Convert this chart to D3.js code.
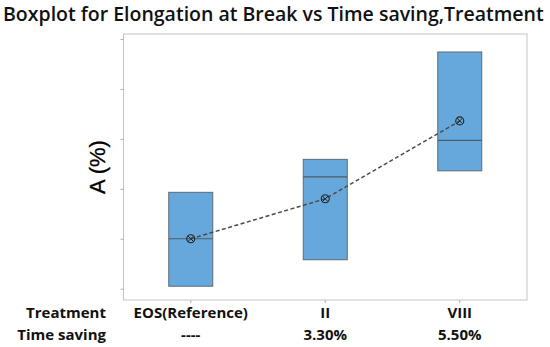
<!DOCTYPE html>
<html>
<head>
<meta charset="utf-8">
<script src="https://cdn.jsdelivr.net/npm/d3@7"></script>
<style>
  body { margin: 0; background: #fff; }
  svg { display: block; }
</style>
</head>
<body>
<svg></svg>
<script>
const treatments = ['EOS(Reference)', 'II', 'VIII'];
const timeSaving = ['----', '3.30%', '5.50%'];
// box stats (arbitrary y units, no tick labels shown)
const q1Values = [1.05, 1.58, 3.36];
const q3Values = [2.93, 3.59, 5.74];
const medianValues = [2.00, 3.24, 3.97];
const meanValues = [2.00, 2.80, 4.36];
const yTicks = [1, 2, 3, 4, 5, 6];

const width = 550;
const height = 347;
const plot = { left: 123.5, right: 527, top: 34, bottom: 300 };

const boxes = treatments.map((t, i) => ({
    name: t,
    q1: q1Values[i],
    q3: q3Values[i],
    median: medianValues[i],
    mean: meanValues[i]
}));

const svg = d3.select('svg')
    .attr('width', width)
    .attr('height', height);

const xScale = d3.scaleBand()
    .domain(treatments)
    .range([plot.left, plot.right]);

const yScale = d3.scaleLinear()
    .domain([0.774, 6.1])
    .range([plot.bottom, plot.top]);

// frame
svg.append('rect')
    .attr('x', plot.left)
    .attr('y', plot.top)
    .attr('width', plot.right - plot.left)
    .attr('height', plot.bottom - plot.top)
    .attr('fill', 'none')
    .attr('stroke', '#c4c4c4')
    .attr('stroke-width', 1);

// y axis: ticks only
const yAxis = d3.axisLeft(yScale)
    .tickValues(yTicks)
    .tickSize(3)
    .tickFormat('');

svg.append('g')
    .attr('transform', 'translate(' + plot.left + ', 0)')
    .call(yAxis)
    .call(g => g.select('.domain').remove())
    .call(g => g.selectAll('line').attr('stroke', '#b0b0b0'));

// x axis ticks
const xAxis = d3.axisBottom(xScale)
    .tickSize(3)
    .tickFormat('');

svg.append('g')
    .attr('transform', 'translate(0, ' + plot.bottom + ')')
    .call(xAxis)
    .call(g => g.select('.domain').remove())
    .call(g => g.selectAll('line').attr('stroke', '#b0b0b0'));

const boxW = 44;
const cx = d => xScale(d.name) + xScale.bandwidth() / 2;

svg.selectAll('.box')
    .data(boxes)
    .enter()
    .append('rect')
    .attr('class', 'box')
    .attr('x', d => cx(d) - boxW / 2)
    .attr('y', d => yScale(d.q3))
    .attr('width', boxW)
    .attr('height', d => yScale(d.q1) - yScale(d.q3))
    .attr('fill', '#66a8dc')
    .attr('stroke', '#5c6b78')
    .attr('stroke-width', 1);

svg.selectAll('.median')
    .data(boxes)
    .enter()
    .append('line')
    .attr('class', 'median')
    .attr('x1', d => cx(d) - boxW / 2)
    .attr('x2', d => cx(d) + boxW / 2)
    .attr('y1', d => yScale(d.median))
    .attr('y2', d => yScale(d.median))
    .attr('stroke', '#4f5c66')
    .attr('stroke-width', 1.2);

// mean connect line
const line = d3.line()
    .x(d => cx(d))
    .y(d => yScale(d.mean));

svg.append('path')
    .datum(boxes)
    .attr('d', line)
    .attr('fill', 'none')
    .attr('stroke', '#4a4a4a')
    .attr('stroke-width', 1.5)
    .attr('stroke-dasharray', '4,2.5');

// mean symbols (circle with cross)
const means = svg.selectAll('.mean')
    .data(boxes)
    .enter()
    .append('g')
    .attr('class', 'mean')
    .attr('transform', d => 'translate(' + cx(d) + ',' + yScale(d.mean) + ')');

means.append('circle')
    .attr('r', 4)
    .attr('fill', 'none')
    .attr('stroke', '#222')
    .attr('stroke-width', 1.1);

means.append('path')
    .attr('d', 'M-2.8,-2.8L2.8,2.8M-2.8,2.8L2.8,-2.8')
    .attr('stroke', '#222')
    .attr('stroke-width', 1);

// y label
svg.append('text')
    .attr('transform', 'translate(105, 167) rotate(-90)')
    .attr('text-anchor', 'middle')
    .style('font-family', '"Liberation Sans", Arial, sans-serif')
    .style('font-size', '22px')
    .style('fill', '#000')
    .style('stroke', '#000')
    .style('stroke-width', 0.3)
    .text('A (%)');

// title, fitted to the reference width
const title = svg.append('text')
    .attr('x', 3)
    .attr('y', 20.5)
    .style('font-family', '"Open Sans", sans-serif')
    .style('font-weight', 600)
    .style('font-size', '20px')
    .style('fill', '#111')
    .text('Boxplot for Elongation at Break vs Time saving,Treatment');
const tw = title.node().getComputedTextLength();
title.style('font-size', (20 * 541 / tw).toFixed(2) + 'px');

// category rows
const rowFont = '"Open Sans", sans-serif';
const rows = [
    { label: 'Treatment', values: treatments, y: 317.5 },
    { label: 'Time saving', values: timeSaving, y: 339.5 }
];

rows.forEach(r => {
    svg.append('text')
        .attr('x', 106)
        .attr('y', r.y)
        .attr('text-anchor', 'end')
        .style('font-family', rowFont)
        .style('font-weight', 700)
        .style('font-size', '15px')
        .style('fill', '#111')
        .text(r.label);

    svg.selectAll(null)
        .data(r.values)
        .enter()
        .append('text')
        .attr('x', (d, i) => xScale(treatments[i]) + xScale.bandwidth() / 2)
        .attr('y', r.y)
        .attr('text-anchor', 'middle')
        .style('font-family', rowFont)
        .style('font-weight', 700)
        .style('font-size', '15px')
        .style('fill', '#111')
        .text(d => d);
});
</script>
</body>
</html>
